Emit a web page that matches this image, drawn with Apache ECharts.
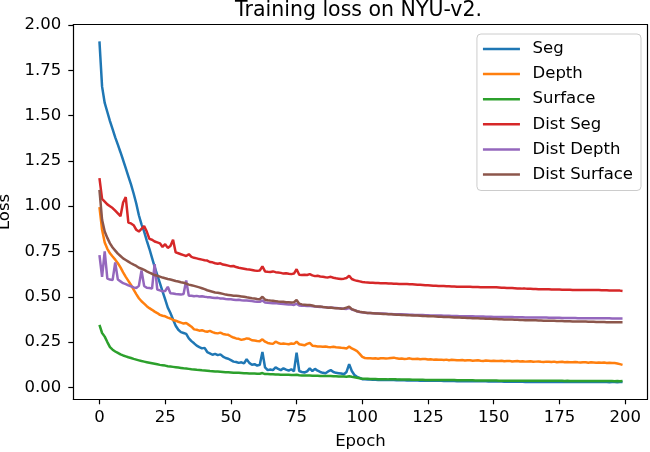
<!DOCTYPE html>
<html>
<head>
<meta charset="utf-8">
<script src="https://cdn.jsdelivr.net/npm/echarts@6/dist/echarts.min.js"></script>
<style>
html,body{margin:0;padding:0;background:#fff;}
#chart{width:650px;height:452px;}
</style>
</head>
<body>
<div id="chart"></div>
<script>
var titleText = "Training loss on NYU-v2.";
var xName = "Epoch";
var yName = "Loss";
var seriesNames = ["Seg", "Depth", "Surface", "Dist Seg", "Dist Depth", "Dist Surface"];
var xTicks = [0, 25, 50, 75, 100, 125, 150, 175, 200];
var yTicks = [0, 0.25, 0.5, 0.75, 1.0, 1.25, 1.5, 1.75, 2.0];

var seg = [
1.910,1.660,1.570,1.520,1.470,1.425,1.380,1.340,1.298,1.255,
1.210,1.165,1.120,1.070,1.015,0.950,0.900,0.860,0.810,0.765,
0.715,0.665,0.620,0.575,0.530,0.485,0.440,0.410,0.375,0.340,
0.318,0.305,0.300,0.295,0.270,0.255,0.243,0.230,0.222,0.215,
0.218,0.195,0.188,0.180,0.185,0.178,0.182,0.170,0.162,0.158,
0.150,0.142,0.140,0.135,0.138,0.132,0.155,0.135,0.125,0.128,
0.120,0.125,0.195,0.110,0.095,0.098,0.095,0.110,0.102,0.095,
0.105,0.098,0.092,0.100,0.088,0.192,0.090,0.085,0.082,0.088,
0.105,0.090,0.102,0.092,0.085,0.080,0.078,0.088,0.095,0.085,
0.080,0.078,0.076,0.072,0.085,0.128,0.090,0.068,0.058,0.052,
0.045,
0.044,0.043,0.043,0.042,0.042,0.041,0.042,0.041,0.040,0.041,
0.040,0.040,0.039,0.040,0.039,0.039,0.038,0.039,0.038,0.038,
0.038,0.037,0.038,0.037,0.037,0.036,0.037,0.036,0.036,0.036,
0.035,0.036,0.035,0.035,0.035,0.034,0.035,0.034,0.034,0.034,
0.034,0.033,0.034,0.033,0.033,0.033,0.033,0.032,0.033,0.032,
0.032,0.032,0.032,0.031,0.032,0.031,0.031,0.031,0.031,0.031,
0.031,0.030,0.031,0.030,0.030,0.030,0.030,0.030,0.030,0.029,
0.030,0.029,0.029,0.029,0.030,0.029,0.029,0.029,0.029,0.029,
0.029,0.029,0.029,0.029,0.029,0.029,0.029,0.029,0.029,0.029,
0.029,0.029,0.029,0.028,0.029,0.029,0.028,0.029,0.029
];

var depth = [
0.995,0.870,0.800,0.765,0.740,0.722,0.705,0.685,0.662,0.635,
0.610,0.588,0.565,0.540,0.515,0.492,0.475,0.462,0.448,0.437,
0.428,0.418,0.410,0.400,0.395,0.392,0.385,0.380,0.372,0.368,
0.362,0.357,0.352,0.355,0.345,0.335,0.320,0.318,0.313,0.315,
0.310,0.307,0.312,0.305,0.300,0.298,0.302,0.295,0.292,0.290,
0.282,0.275,0.270,0.268,0.262,0.265,0.270,0.268,0.260,0.258,
0.256,0.255,0.265,0.252,0.245,0.242,0.240,0.252,0.245,0.240,
0.242,0.240,0.238,0.242,0.240,0.252,0.238,0.235,0.232,0.240,
0.245,0.230,0.228,0.226,0.225,0.224,0.226,0.223,0.222,0.224,
0.221,0.220,0.218,0.217,0.215,0.226,0.215,0.208,0.200,0.185,
0.168,
0.162,0.160,0.161,0.159,0.160,0.158,0.161,0.160,0.159,0.160,
0.162,0.164,0.160,0.158,0.159,0.157,0.158,0.160,0.157,0.156,
0.158,0.155,0.156,0.157,0.154,0.155,0.153,0.154,0.152,0.153,
0.151,0.153,0.150,0.152,0.151,0.149,0.150,0.151,0.148,0.150,
0.149,0.147,0.148,0.149,0.147,0.146,0.148,0.147,0.145,0.147,
0.146,0.145,0.147,0.144,0.145,0.146,0.143,0.144,0.145,0.143,
0.144,0.142,0.143,0.144,0.141,0.142,0.143,0.141,0.140,0.142,
0.141,0.140,0.142,0.139,0.140,0.141,0.138,0.140,0.139,0.138,
0.140,0.138,0.137,0.139,0.138,0.136,0.138,0.137,0.136,0.137,
0.136,0.137,0.135,0.136,0.135,0.134,0.132,0.128,0.124
];

var surface = [
0.345,0.300,0.280,0.250,0.222,0.208,0.198,0.190,0.182,0.176,
0.171,0.166,0.162,0.157,0.153,0.149,0.145,0.142,0.139,0.136,
0.133,0.130,0.127,0.124,0.122,0.120,0.117,0.115,0.113,0.111,
0.109,0.107,0.105,0.104,0.102,0.100,0.099,0.097,0.096,0.094,
0.093,0.092,0.090,0.089,0.088,0.087,0.086,0.085,0.084,0.083,
0.082,0.081,0.081,0.080,0.079,0.078,0.078,0.077,0.076,0.076,
0.075,0.075,0.079,0.073,0.073,0.072,0.072,0.071,0.071,0.070,
0.070,0.069,0.069,0.068,0.068,0.070,0.067,0.066,0.066,0.065,
0.065,0.064,0.064,0.064,0.063,0.063,0.062,0.062,0.062,0.061,
0.061,0.060,0.060,0.060,0.059,0.061,0.058,0.056,0.053,0.050,
0.048,
0.047,0.047,0.046,0.046,0.046,0.045,0.045,0.045,0.045,0.044,
0.044,0.044,0.044,0.043,0.043,0.043,0.043,0.043,0.042,0.042,
0.042,0.042,0.042,0.041,0.041,0.041,0.041,0.041,0.041,0.040,
0.040,0.040,0.040,0.040,0.040,0.039,0.039,0.039,0.039,0.039,
0.039,0.039,0.038,0.038,0.038,0.038,0.038,0.038,0.038,0.038,
0.038,0.037,0.037,0.037,0.037,0.037,0.037,0.037,0.037,0.037,
0.037,0.037,0.037,0.036,0.036,0.036,0.036,0.036,0.036,0.036,
0.036,0.036,0.036,0.036,0.036,0.036,0.035,0.036,0.035,0.035,
0.035,0.035,0.035,0.035,0.035,0.035,0.035,0.035,0.035,0.035,
0.035,0.035,0.035,0.035,0.035,0.034,0.035,0.034,0.035
];

var distSeg = [
1.155,1.040,1.025,1.010,1.000,0.990,0.975,0.960,0.945,1.020,
1.050,0.910,0.905,0.895,0.870,0.860,0.875,0.890,0.860,0.820,
0.815,0.805,0.800,0.795,0.775,0.790,0.770,0.780,0.815,0.745,
0.740,0.735,0.730,0.725,0.735,0.720,0.715,0.712,0.708,0.705,
0.702,0.700,0.692,0.690,0.685,0.682,0.685,0.678,0.675,0.672,
0.668,0.670,0.664,0.660,0.658,0.655,0.652,0.650,0.648,0.645,
0.643,0.645,0.668,0.640,0.638,0.637,0.640,0.636,0.634,0.632,
0.628,0.630,0.627,0.625,0.628,0.652,0.622,0.620,0.622,0.620,
0.625,0.618,0.614,0.616,0.612,0.610,0.608,0.607,0.610,0.605,
0.602,0.600,0.598,0.600,0.604,0.616,0.598,0.592,0.588,0.585,
0.582,
0.580,0.579,0.578,0.577,0.576,0.576,0.575,0.574,0.574,0.573,
0.573,0.572,0.572,0.571,0.571,0.570,0.570,0.569,0.569,0.568,
0.567,0.566,0.565,0.564,0.563,0.562,0.561,0.561,0.560,0.559,
0.559,0.558,0.558,0.557,0.557,0.556,0.556,0.556,0.555,0.555,
0.555,0.554,0.554,0.554,0.553,0.553,0.553,0.552,0.552,0.552,
0.552,0.551,0.550,0.550,0.549,0.548,0.548,0.547,0.546,0.546,
0.545,0.545,0.544,0.544,0.543,0.543,0.542,0.542,0.541,0.541,
0.541,0.540,0.540,0.540,0.540,0.539,0.539,0.539,0.539,0.538,
0.538,0.538,0.538,0.538,0.537,0.537,0.537,0.537,0.537,0.537,
0.536,0.536,0.536,0.535,0.535,0.535,0.534,0.534,0.532
];

var distDepth = [
0.730,0.610,0.750,0.600,0.595,0.592,0.690,0.595,0.585,0.575,
0.570,0.563,0.558,0.552,0.548,0.560,0.645,0.560,0.550,0.548,
0.545,0.680,0.540,0.535,0.530,0.532,0.555,0.520,0.518,0.515,
0.514,0.512,0.515,0.590,0.505,0.506,0.503,0.505,0.502,0.503,
0.500,0.498,0.497,0.495,0.493,0.494,0.491,0.490,0.488,0.487,
0.486,0.484,0.482,0.483,0.481,0.480,0.479,0.478,0.476,0.474,
0.473,0.472,0.480,0.469,0.467,0.466,0.464,0.465,0.463,0.461,
0.460,0.459,0.457,0.457,0.455,0.462,0.452,0.451,0.450,0.449,
0.450,0.447,0.446,0.445,0.444,0.443,0.442,0.441,0.440,0.439,
0.438,0.437,0.436,0.434,0.433,0.438,0.430,0.426,0.420,0.416,
0.414,
0.412,0.411,0.410,0.409,0.409,0.408,0.407,0.407,0.406,0.405,
0.405,0.404,0.404,0.403,0.403,0.402,0.402,0.401,0.401,0.400,
0.400,0.399,0.399,0.398,0.398,0.397,0.397,0.396,0.396,0.396,
0.395,0.395,0.395,0.394,0.394,0.394,0.393,0.393,0.393,0.392,
0.392,0.392,0.391,0.391,0.391,0.391,0.390,0.390,0.390,0.389,
0.389,0.389,0.389,0.388,0.388,0.388,0.388,0.387,0.387,0.387,
0.387,0.386,0.386,0.386,0.386,0.385,0.385,0.385,0.385,0.385,
0.384,0.384,0.384,0.384,0.384,0.383,0.383,0.383,0.383,0.383,
0.383,0.382,0.382,0.382,0.382,0.382,0.382,0.381,0.381,0.381,
0.381,0.381,0.381,0.381,0.380,0.380,0.380,0.380,0.380
];

var distSurface = [
1.090,0.925,0.860,0.825,0.795,0.772,0.755,0.738,0.725,0.712,
0.703,0.694,0.685,0.677,0.670,0.660,0.655,0.649,0.640,0.633,
0.627,0.620,0.616,0.611,0.606,0.602,0.598,0.595,0.591,0.587,
0.584,0.580,0.577,0.573,0.567,0.564,0.560,0.556,0.552,0.547,
0.542,0.536,0.532,0.528,0.524,0.522,0.519,0.516,0.512,0.510,
0.508,0.506,0.505,0.504,0.502,0.500,0.497,0.495,0.492,0.490,
0.488,0.487,0.500,0.484,0.481,0.479,0.478,0.476,0.474,0.473,
0.472,0.470,0.470,0.468,0.470,0.482,0.462,0.458,0.456,0.454,
0.455,0.452,0.448,0.446,0.447,0.444,0.442,0.440,0.441,0.438,
0.437,0.436,0.434,0.435,0.440,0.445,0.432,0.426,0.420,0.417,
0.415,
0.413,0.411,0.410,0.409,0.408,0.407,0.406,0.405,0.405,0.404,
0.403,0.402,0.401,0.401,0.400,0.399,0.398,0.398,0.397,0.396,
0.396,0.395,0.394,0.394,0.393,0.392,0.392,0.391,0.390,0.390,
0.389,0.388,0.388,0.387,0.386,0.386,0.385,0.384,0.384,0.383,
0.383,0.382,0.381,0.381,0.380,0.380,0.379,0.378,0.378,0.377,
0.377,0.376,0.376,0.375,0.375,0.374,0.374,0.373,0.373,0.372,
0.372,0.371,0.371,0.371,0.370,0.370,0.369,0.369,0.368,0.368,
0.368,0.367,0.367,0.366,0.366,0.366,0.365,0.365,0.365,0.364,
0.364,0.364,0.363,0.363,0.363,0.362,0.362,0.362,0.361,0.361,
0.361,0.361,0.360,0.360,0.360,0.360,0.359,0.359,0.359
];

var colors = ["#1f77b4", "#ff7f0e", "#2ca02c", "#d62728", "#9467bd", "#8c564b"];
var allValues = [seg, depth, surface, distSeg, distDepth, distSurface];
var FONT = "DejaVu Sans";
var X_MIN = -9.95, X_MAX = 208.5, Y_MIN = -0.066, Y_MAX = 2.002;

function toPairs(arr) {
  return arr.map(function (v, i) { return [i, v]; });
}

var frameAxisLine = {show: true, onZero: false, lineStyle: {color: '#000', width: 1.2}};

var chart = echarts.init(document.getElementById('chart'), null, {renderer: 'canvas'});
var option = {
  animation: false,
  backgroundColor: '#ffffff',
  color: colors,
  title: {
    text: titleText,
    left: 235,
    top: 0,
    padding: 0,
    textStyle: {fontFamily: FONT, fontSize: 20.5, fontWeight: 'normal', color: '#000'}
  },
  grid: {
    left: 73.3, right: 2.5, top: 24.7, bottom: 52.7,
    containLabel: false,
    outerBoundsMode: 'none'
  },
  legend: {
    orient: 'vertical',
    right: 9,
    top: 34,
    padding: [5, 8, 6, 6],
    itemWidth: 37,
    itemHeight: 2.5,
    itemGap: 5.1,
    icon: 'rect',
    backgroundColor: 'rgba(255,255,255,0.8)',
    borderColor: '#cccccc',
    borderWidth: 1,
    borderRadius: 4,
    data: seriesNames,
    textStyle: {fontFamily: FONT, fontSize: 16.5, color: '#000', lineHeight: 20, padding: [0, 0, 0, 7.6]}
  },
  xAxis: [{
    type: 'value',
    position: 'bottom',
    min: X_MIN,
    max: X_MAX,
    name: xName,
    nameLocation: 'middle',
    nameGap: 34,
    nameTextStyle: {fontFamily: FONT, fontSize: 16.5, color: '#000'},
    axisLine: frameAxisLine,
    splitLine: {show: false},
    axisTick: {show: true, inside: false, length: 5, customValues: xTicks, lineStyle: {color: '#000', width: 1.2}},
    axisLabel: {customValues: xTicks, margin: 10, fontFamily: FONT, fontSize: 16.5, color: '#000',
      formatter: function (v) { return String(v); }}
  }, {
    type: 'value',
    position: 'top',
    min: X_MIN,
    max: X_MAX,
    axisLine: frameAxisLine,
    axisTick: {show: false},
    axisLabel: {show: false},
    splitLine: {show: false}
  }],
  yAxis: [{
    type: 'value',
    position: 'left',
    min: Y_MIN,
    max: Y_MAX,
    name: yName,
    nameLocation: 'middle',
    nameGap: 55,
    nameTextStyle: {fontFamily: FONT, fontSize: 16.5, color: '#000'},
    axisLine: frameAxisLine,
    splitLine: {show: false},
    axisTick: {show: true, inside: false, length: 5, customValues: yTicks, lineStyle: {color: '#000', width: 1.2}},
    axisLabel: {customValues: yTicks, margin: 12, fontFamily: FONT, fontSize: 16.5, color: '#000',
      formatter: function (v) { return v.toFixed(2); }}
  }, {
    type: 'value',
    position: 'right',
    min: Y_MIN,
    max: Y_MAX,
    axisLine: frameAxisLine,
    axisTick: {show: false},
    axisLabel: {show: false},
    splitLine: {show: false}
  }],
  series: seriesNames.map(function (name, k) {
    return {
      name: name,
      type: 'line',
      xAxisIndex: 0,
      yAxisIndex: 0,
      data: toPairs(allValues[k]),
      showSymbol: false,
      symbol: 'none',
      lineStyle: {width: 2.5, color: colors[k]},
      itemStyle: {color: colors[k]},
      emphasis: {disabled: true},
      z: 2 + k
    };
  })
};
chart.setOption(option);
</script>
</body>
</html>
